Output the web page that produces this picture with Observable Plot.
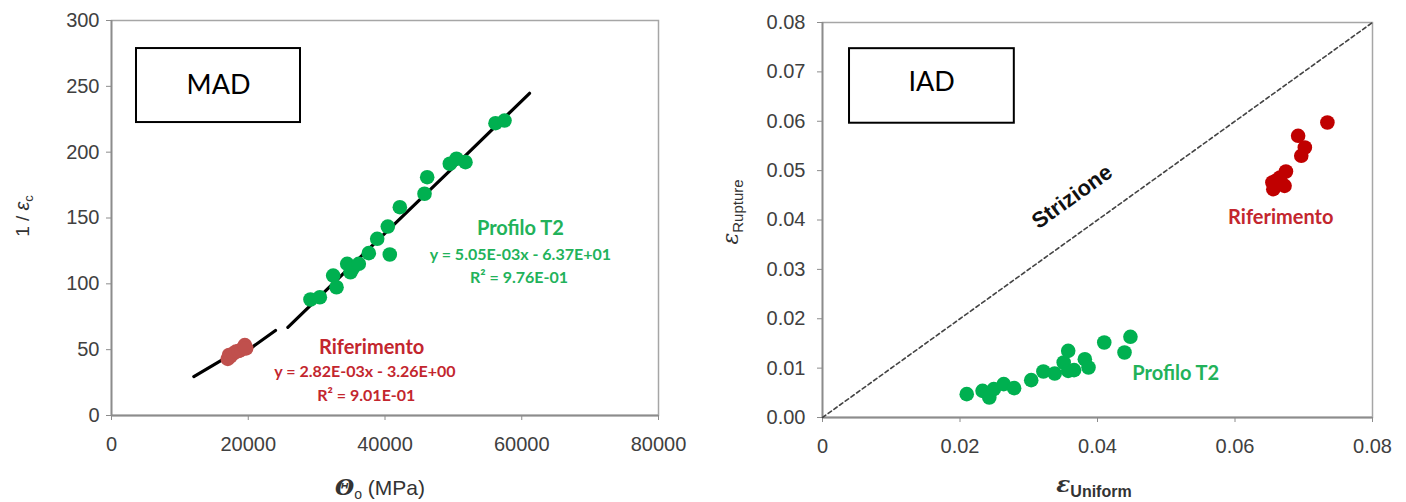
<!DOCTYPE html>
<html>
<head>
<meta charset="utf-8">
<script src="https://cdn.jsdelivr.net/npm/d3@7"></script>
<script src="https://cdn.jsdelivr.net/npm/@observablehq/plot@0.6"></script>
<style>
  body { margin: 0; background: #fff; }
  #wrap { position: relative; width: 1406px; height: 502px; overflow: hidden; }
  .panel { position: absolute; top: 0; }
</style>
</head>
<body>
<div id="wrap">
  <div id="left" class="panel" style="left:0px"></div>
  <div id="right" class="panel" style="left:700px"></div>
</div>
<script>
// ---------- LEFT PANEL (MAD) data ----------
const madT2X = [29100, 30470, 32420, 32910, 34470, 34950, 35300, 36170, 37630, 38860, 40410, 40700, 42170, 45780, 46170, 49480, 50460, 51770, 56160, 57480];
const madT2Y = [88.1, 89.8, 106.3, 97.4, 115.2, 108.8, 112, 115.2, 123.3, 134.2, 143.5, 122.3, 158.2, 168.4, 181, 191.2, 195, 192.4, 222, 224];
const madRefX = [17000, 17200, 17400, 17800, 18200, 18600, 19000, 19400, 19500, 19700];
const madRefY = [43, 46, 45, 47, 48.5, 49, 50, 52, 53.5, 51];
const madFitRefX = [12040, 16430, 20580, 23985];
const madFitRefY = [29.6, 43, 51.9, 64.6];
const madFitT2X = [25790, 40320, 50560, 61140];
const madFitT2Y = [67, 140, 191.3, 244.7];
const madXTicks = [0, 20000, 40000, 60000, 80000];
const madYTicks = [0, 50, 100, 150, 200, 250, 300];

// ---------- RIGHT PANEL (IAD) data ----------
const iadT2X = [0.02098, 0.02328, 0.02426, 0.02492, 0.02636, 0.02787, 0.03036, 0.03213, 0.03377, 0.03508, 0.03574, 0.03574, 0.03659, 0.03816, 0.03869, 0.04098, 0.04393, 0.04479];
const iadT2Y = [0.00473, 0.0054, 0.00405, 0.00574, 0.00675, 0.00594, 0.00756, 0.00932, 0.00891, 0.01114, 0.0135, 0.00945, 0.00959, 0.01181, 0.01013, 0.01519, 0.01316, 0.01634];
const iadRefX = [0.07344, 0.06918, 0.07016, 0.06964, 0.06741, 0.06656, 0.06544, 0.06557, 0.06721, 0.066];
const iadRefY = [0.05975, 0.05705, 0.05468, 0.053, 0.04982, 0.04861, 0.0476, 0.04624, 0.04692, 0.048];
const strizioneX = [0, 0.08];
const strizioneY = [0, 0.08];
const iadXTicks = [0, 0.02, 0.04, 0.06, 0.08];
const iadYTicks = [0, 0.01, 0.02, 0.03, 0.04, 0.05, 0.06, 0.07, 0.08];

// ---------- helpers ----------
const zip = (xs, ys) => xs.map((x, i) => ({x, y: ys[i]}));
const GREEN = "#00b050", GREEN_TXT = "#22b25a";
const RED_L = "#c0504d", RED_R = "#c00000", RED_TXT = "#c3262e";
const AXIS = "#8c8c8c", FRAME = "#a6a6a6", TICKTXT = "#404040";
const ANN = "Lato, 'Open Sans', sans-serif";
const TICKFONT = "'Liberation Sans', Arial, sans-serif";
const baseStyle = {fontFamily: TICKFONT, fontSize: "20px", background: "transparent", overflow: "visible", color: TICKTXT};
const R = 7.3;

// ---------- LEFT ----------
const left = Plot.plot({
  width: 700, height: 502,
  marginLeft: 111, marginRight: 42, marginTop: 20, marginBottom: 87,
  style: baseStyle,
  x: {domain: [0, 80000]},
  y: {domain: [0, 300]},
  marks: [
    Plot.frame({stroke: FRAME, strokeWidth: 1.5}),
    Plot.axisX({ticks: madXTicks, tickFormat: d => String(d), tickSize: 5, tickPadding: 16, stroke: AXIS, fill: TICKTXT, label: null}),
    Plot.axisY({ticks: madYTicks, tickFormat: d => String(d), tickSize: 5, tickPadding: 7, stroke: AXIS, fill: TICKTXT, label: null}),
    Plot.ruleX([0], {stroke: AXIS, strokeWidth: 1.8}),
    Plot.ruleY([0], {stroke: AXIS, strokeWidth: 1.8}),
    Plot.rect([{x1: 3656, x2: 27642, y1: 222.5, y2: 278.7}], {x1: "x1", x2: "x2", y1: "y1", y2: "y2", fill: "white", stroke: "black", strokeWidth: 2}),
    Plot.text(["MAD"], {x: 15650, y: 251, fontSize: 27, fontFamily: ANN, fill: "black"}),
    Plot.line(zip(madFitRefX, madFitRefY), {x: "x", y: "y", stroke: "black", strokeWidth: 3.2}),
    Plot.line(zip(madFitT2X, madFitT2Y), {x: "x", y: "y", stroke: "black", strokeWidth: 3.2}),
    Plot.dot(zip(madRefX, madRefY), {x: "x", y: "y", r: R, fill: RED_L}),
    Plot.dot(zip(madT2X, madT2Y), {x: "x", y: "y", r: R, fill: GREEN}),
    Plot.text(["Profilo T2"], {x: 59800, y: 141.9, fontSize: 20, fontWeight: "bold", fontFamily: ANN, fill: GREEN_TXT}),
    Plot.text(["y = 5.05E-03x - 6.37E+01"], {x: 59800, y: 122.3, fontSize: 16, fontWeight: "bold", fontFamily: ANN, fill: GREEN_TXT}),
    Plot.text(["R² = 9.76E-01"], {x: 59600, y: 104.9, fontSize: 16, fontWeight: "bold", fontFamily: ANN, fill: GREEN_TXT}),
    Plot.text(["Riferimento"], {x: 38050, y: 51.9, fontSize: 20, fontWeight: "bold", fontFamily: ANN, fill: RED_TXT}),
    Plot.text(["y = 2.82E-03x - 3.26E+00"], {x: 37070, y: 32.8, fontSize: 16, fontWeight: "bold", fontFamily: ANN, fill: RED_TXT}),
    Plot.text(["R² = 9.01E-01"], {x: 37270, y: 14.6, fontSize: 16, fontWeight: "bold", fontFamily: ANN, fill: RED_TXT})
  ]
});
document.getElementById("left").appendChild(left);

// axis titles (left)
{
  const s = d3.select(left);
  const t = s.append("text").attr("x", 380).attr("y", 495).attr("text-anchor", "middle").attr("fill", "#333");
  t.append("tspan").attr("font-family", "'DejaVu Serif', serif").attr("font-style", "italic").attr("font-weight", "bold").attr("font-size", 22).text("Θ");
  t.append("tspan").attr("font-family", "'Liberation Sans', Arial, sans-serif").attr("font-size", 14).attr("dy", 4).text("o");
  t.append("tspan").attr("font-family", "'Liberation Sans', Arial, sans-serif").attr("font-size", 21).attr("dy", -4).text(" (MPa)");
  const y = s.append("text").attr("transform", "translate(29,216) rotate(-90)").attr("text-anchor", "middle").attr("fill", "#333").attr("font-family", "'Liberation Sans', Arial, sans-serif");
  y.append("tspan").attr("font-size", 19).text("1 / ");
  y.append("tspan").attr("font-size", 20).attr("font-style", "italic").text("ε");
  y.append("tspan").attr("font-size", 13).attr("dy", 4).text("c");
}

// ---------- RIGHT ----------
const right = Plot.plot({
  width: 706, height: 502,
  marginLeft: 122, marginRight: 34, marginTop: 22, marginBottom: 85,
  style: baseStyle,
  x: {domain: [0, 0.08]},
  y: {domain: [0, 0.08]},
  marks: [
    Plot.frame({stroke: FRAME, strokeWidth: 1.5}),
    Plot.axisX({ticks: iadXTicks, tickFormat: d => d === 0 ? "0" : d3.format(".2f")(d), tickSize: 5, tickPadding: 16, stroke: AXIS, fill: TICKTXT, label: null}),
    Plot.axisY({ticks: iadYTicks, tickFormat: d3.format(".2f"), tickSize: 5, tickPadding: 12, stroke: AXIS, fill: TICKTXT, label: null}),
    Plot.ruleX([0], {stroke: AXIS, strokeWidth: 1.8}),
    Plot.ruleY([0], {stroke: AXIS, strokeWidth: 1.8}),
    Plot.line(zip(strizioneX, strizioneY), {x: "x", y: "y", stroke: "#444", strokeWidth: 1.6, strokeDasharray: "4,3"}),
    Plot.rect([{x1: 0.00393, x2: 0.0279, y1: 0.0596, y2: 0.0747}], {x1: "x1", x2: "x2", y1: "y1", y2: "y2", fill: "white", stroke: "black", strokeWidth: 2}),
    Plot.text(["IAD"], {x: 0.01587, y: 0.0678, fontSize: 27, fontFamily: ANN, fill: "black"}),
    Plot.text(["Strizione"], {x: 0.0363, y: 0.0447, rotate: -35.7, fontSize: 22, fontWeight: "bold", fontFamily: "'Liberation Sans', Arial, sans-serif", fill: "#111"}),
    Plot.dot(zip(iadRefX, iadRefY), {x: "x", y: "y", r: R, fill: RED_R}),
    Plot.dot(zip(iadT2X, iadT2Y), {x: "x", y: "y", r: R, fill: GREEN}),
    Plot.text(["Riferimento"], {x: 0.06666, y: 0.04057, fontSize: 20, fontWeight: "bold", fontFamily: ANN, fill: RED_TXT}),
    Plot.text(["Profilo T2"], {x: 0.05138, y: 0.0088, fontSize: 20, fontWeight: "bold", fontFamily: ANN, fill: GREEN_TXT})
  ]
});
document.getElementById("right").appendChild(right);

{
  const s = d3.select(right);
  const t = s.append("text").attr("x", 394).attr("y", 492).attr("text-anchor", "middle").attr("fill", "#333");
  t.append("tspan").attr("font-family", "'DejaVu Serif', serif").attr("font-style", "italic").attr("font-weight", "bold").attr("font-size", 23).text("ε");
  t.append("tspan").attr("font-family", "'Liberation Sans', Arial, sans-serif").attr("font-weight", "bold").attr("font-size", 16).attr("dy", 5).text("Uniform");
  const y = s.append("text").attr("transform", "translate(38,212) rotate(-90)").attr("text-anchor", "middle").attr("fill", "#333");
  y.append("tspan").attr("font-family", "'DejaVu Serif', serif").attr("font-style", "italic").attr("font-size", 22).text("ε");
  y.append("tspan").attr("font-family", "'Liberation Sans', Arial, sans-serif").attr("font-size", 15).attr("dy", 5).text("Rupture");
}
</script>
</body>
</html>
